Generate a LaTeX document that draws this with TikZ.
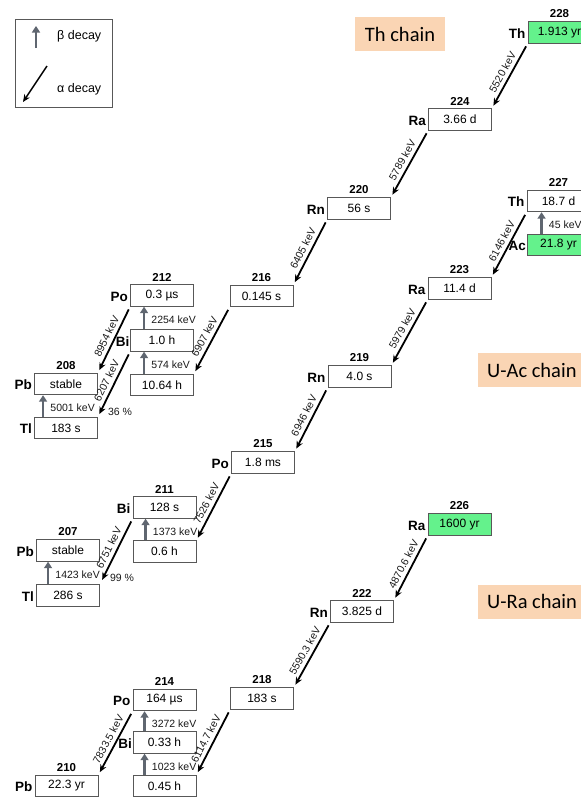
\documentclass[tikz,border=0pt]{standalone}
\usepackage{fontspec}
\setmainfont{Liberation Sans}
\newfontfamily\calib{Carlito}
\usetikzlibrary{arrows.meta}
\definecolor{boxline}{RGB}{88,88,88}
\definecolor{nucgreen}{RGB}{100,242,140}
\definecolor{peach}{RGB}{250,213,180}
\definecolor{betagray}{RGB}{95,102,112}
\begin{document}
\begin{tikzpicture}[x=1pt,y=-1pt,
  nuc/.style={draw=boxline, line width=0.9pt, minimum width=63pt, minimum height=21.5pt, inner sep=0pt, font=\fontsize{12}{14}\selectfont},
  stablenuc/.style={nuc, fill=nucgreen},
  mass/.style={font=\bfseries\fontsize{11.5}{13}\selectfont, inner xsep=1pt, inner ysep=3pt},
  elem/.style={font=\bfseries\fontsize{13.5}{15}\selectfont, inner xsep=2pt, inner ysep=1pt, yshift=-1pt},
  elemtight/.style={elem, inner xsep=0.5pt},
  alphaarrow/.style={-{Stealth[length=7.5pt,width=6.5pt]}, line width=1.8pt, black, shorten <=3pt, shorten >=3pt},
  betaarrow/.style={-{Triangle[length=6.5pt,width=8pt]}, line width=2.8pt, betagray},
  elabel/.style={font=\fontsize{10.5}{12}\selectfont, sloped, above, midway, inner sep=3.5pt, text=black!90},
  blabel/.style={font=\fontsize{10.5}{12}\selectfont, right, midway, inner sep=0pt, xshift=6pt, yshift=-2pt, text=black!90},
  pct/.style={font=\fontsize{10.5}{12}\selectfont, inner sep=0pt, text=black!90},
  chainlabel/.style={fill=peach, minimum height=34pt, inner xsep=9pt, font=\calib\fontsize{20.5}{24}\selectfont}
]
\useasboundingbox (0,0) rectangle (581,798);
\clip (0,0) rectangle (581,798);

% legend
\node[draw=boxline, line width=0.8pt, minimum width=97pt, minimum height=88pt, inner sep=0pt] (legend) at (63.5,63) {};
\coordinate (lb1) at (36,48);
\coordinate (lb2) at (36,26);
\draw[betaarrow] (lb1) -- (lb2);
\node[anchor=west, font=\fontsize{12.5}{14}\selectfont, inner sep=0pt] (lbt) at (57,36) {β decay};
\coordinate (la1) at (47,66);
\coordinate (la2) at (23,102);
\draw[alphaarrow, line width=1.5pt, shorten <=0pt, shorten >=0pt] (la1) -- (la2);
\node[anchor=west, font=\fontsize{12.5}{14}\selectfont, inner sep=0pt] (lat) at (57,89) {α decay};

% chain labels
\node[chainlabel, minimum width=90pt] (thchain) at (400,34) {Th chain};
\node[chainlabel, anchor=west] (uachain) at (478,370) {U-Ac chain};
\node[chainlabel, anchor=west] (urachain) at (478,601.5) {U-Ra chain};

% Th chain
\node[stablenuc, label={[mass]above:228}, label={[elem]left:Th}] (th228) at (559.5,32.5) {1.913 yr};
\node[nuc, label={[mass]above:224}, label={[elem]left:Ra}] (ra224) at (460,119.5) {3.66 d};
\node[nuc, label={[mass]above:220}, label={[elem]left:Rn}] (rn220) at (359,208.5) {56 s};
\node[nuc, label={[mass]above:216}] (po216) at (261.5,296) {0.145 s};
\node[nuc, label={[mass]above:212}, label={[elem]left:Po}] (po212) at (162,295.5) {0.3 µs};
\node[nuc, label={[elemtight]left:Bi}] (bi212) at (162,340.5) {1.0 h};
\node[nuc] (pb212) at (162,385) {10.64 h};
\node[nuc, label={[mass]above:208}, label={[elem]left:Pb}] (pb208) at (66,384) {stable};
\node[nuc, label={[elem]left:Tl}] (tl208) at (66,428) {183 s};

\draw[alphaarrow] (th228.south west) -- node[elabel]{5520 keV} (ra224.north east);
\draw[alphaarrow] (ra224.south west) -- node[elabel]{5789 keV} (rn220.north east);
\draw[alphaarrow] (rn220.south west) -- node[elabel]{6405 keV} (po216.north east);
\draw[alphaarrow] (po216.south west) -- node[elabel]{6907 keV} (pb212.north east);
\draw[alphaarrow] (po212.south west) -- node[elabel]{8954 keV} (pb208.north east);
\draw[alphaarrow] (bi212.south west) -- node[elabel]{6207 keV} (tl208.north east);
\draw[betaarrow] ([xshift=14pt]pb212.north west) -- node[blabel]{574 keV} ([xshift=14pt]bi212.south west);
\draw[betaarrow] ([xshift=14pt]bi212.north west) -- node[blabel]{2254 keV} ([xshift=14pt]po212.south west);
\draw[betaarrow] ([xshift=9pt]tl208.north west) -- node[blabel]{5001 keV} ([xshift=9pt]pb208.south west);
\node[pct] (p36) at (120,412) {36 \%};

% U-Ac chain
\node[nuc, label={[mass]above:227}, label={[elem]left:Th}] (th227) at (558.5,201) {18.7 d};
\node[stablenuc, label={[elemtight]left:Ac}] (ac227) at (558.5,245) {21.8 yr};
\node[nuc, label={[mass]above:223}, label={[elem]left:Ra}] (ra223) at (459.5,288.5) {11.4 d};
\node[nuc, label={[mass]above:219}, label={[elem]left:Rn}] (rn219) at (359.5,376.5) {4.0 s};
\node[nuc, label={[mass]above:215}, label={[elem]left:Po}] (po215) at (263,462.5) {1.8 ms};
\node[nuc, label={[mass]above:211}, label={[elem]left:Bi}] (bi211) at (164.5,507.5) {128 s};
\node[nuc] (pb211) at (164.5,551.5) {0.6 h};
\node[nuc, label={[mass]above:207}, label={[elem]left:Pb}] (pb207) at (68,550.5) {stable};
\node[nuc, label={[elem]left:Tl}] (tl207) at (68,595.5) {286 s};

\draw[betaarrow] ([xshift=15pt]ac227.north west) -- node[blabel]{45 keV} ([xshift=15pt]th227.south west);
\draw[alphaarrow] (th227.south west) -- node[elabel]{6146 keV} (ra223.north east);
\draw[alphaarrow] (ra223.south west) -- node[elabel]{5979 keV} (rn219.north east);
\draw[alphaarrow] (rn219.south west) -- node[elabel]{6946 keV} (po215.north east);
\draw[alphaarrow] (po215.south west) -- node[elabel]{7526 keV} (pb211.north east);
\draw[alphaarrow, shorten >=5pt] (bi211.south west) -- node[elabel]{6751 keV} (tl207.north east);
\draw[betaarrow] ([xshift=13pt]pb211.north west) -- node[blabel]{1373 keV} ([xshift=13pt]bi211.south west);
\draw[betaarrow] ([xshift=12pt]tl207.north west) -- node[blabel]{1423 keV} ([xshift=12pt]pb207.south west);
\node[pct] (p99) at (122,578) {99 \%};

% U-Ra chain
\node[stablenuc, label={[mass]above:226}, label={[elem]left:Ra}] (ra226) at (459.5,524.5) {1600 yr};
\node[nuc, label={[mass]above:222}, label={[elem]left:Rn}] (rn222) at (362,611.5) {3.825 d};
\node[nuc, label={[mass]above:218}] (po218) at (262,698.5) {183 s};
\node[nuc, label={[mass]above:214}, label={[elem]left:Po}] (po214) at (164.5,700) {164 µs};
\node[nuc, label={[elemtight]left:Bi}] (bi214) at (164.5,742.5) {0.33 h};
\node[nuc] (pb214) at (164.5,786) {0.45 h};
\node[nuc, label={[mass]above:210}, label={[elem]left:Pb}] (pb210) at (66.5,786) {22.3 yr};

\draw[alphaarrow] (ra226.south west) -- node[elabel]{4870.6 keV} (rn222.north east);
\draw[alphaarrow] (rn222.south west) -- node[elabel]{5590.3 keV} (po218.north east);
\draw[alphaarrow] (po218.south west) -- node[elabel]{6114.7 keV} (pb214.north east);
\draw[alphaarrow] (po214.south west) -- node[elabel]{7833.5 keV} (pb210.north east);
\draw[betaarrow] ([xshift=12pt]pb214.north west) -- node[blabel]{1023 keV} ([xshift=12pt]bi214.south west);
\draw[betaarrow] ([xshift=12pt]bi214.north west) -- node[blabel]{3272 keV} ([xshift=12pt]po214.south west);
\end{tikzpicture}
\end{document}
